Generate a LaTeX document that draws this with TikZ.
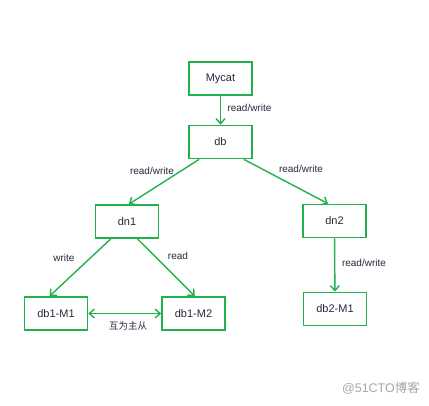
\documentclass[tikz,border=0pt]{standalone}
\usepackage{fontspec}
\setmainfont{Liberation Sans}
\newfontfamily\cjk{Noto Sans CJK SC}
\usetikzlibrary{arrows.meta,calc}
\definecolor{pgreen}{RGB}{34,177,76}
\definecolor{txt}{RGB}{40,40,60}
\begin{document}
\begin{tikzpicture}[x=1pt,y=-1pt,
  box/.style={draw=pgreen,line width=1.7pt,minimum width=63pt,minimum height=33pt,inner sep=0pt,text=txt,font=\fontsize{11}{13}\selectfont},
  conn/.style={draw=pgreen,line width=1.4pt,-{Straight Barb[length=5pt,width=9pt,line width=1.4pt]}},
  lbl/.style={text=txt,font=\fontsize{10}{12}\selectfont,inner sep=0pt}]
\path[use as bounding box,fill=white] (0,0) rectangle (429,405);
\node[box] (mycat) at (220.5,78.5) {Mycat};
\node[box] (db) at (220.5,142) {db};
\node[box] (dn1) at (127,221.5) {dn1};
\node[box] (dn2) at (334.5,221) {dn2};
\node[box] (m1) at (56,313.5) {db1-M1};
\node[box] (m2) at (193.5,313.5) {db1-M2};
\node[box] (m3) at (335,309) {db2-M1};
\draw[conn] (mycat) -- (db);
\draw[conn] ($(db.south west)!0.17!(db.south east)$) -- ($(dn1.north west)!0.53!(dn1.north east)$);
\draw[conn] ($(db.south west)!0.86!(db.south east)$) -- ($(dn2.north west)!0.4!(dn2.north east)$);
\draw[conn] ($(dn1.south west)!0.25!(dn1.south east)$) -- ($(m1.north west)!0.4!(m1.north east)$);
\draw[conn] ($(dn1.south west)!0.66!(dn1.south east)$) -- ($(m2.north west)!0.52!(m2.north east)$);
\draw[conn] (dn2) -- (m3);
\draw[conn,{Straight Barb[length=5pt,width=9pt,line width=1.4pt]}-{Straight Barb[length=5pt,width=9pt,line width=1.4pt]}] (m1) -- (m2);
\node[lbl] (l1) at (249.5,108) {read/write};
\node[lbl] (l2) at (152,171) {read/write};
\node[lbl] (l3) at (301,169) {read/write};
\node[lbl] (l4) at (64,258) {write};
\node[lbl] (l5) at (178,256) {read};
\node[lbl] (l6) at (364,263) {read/write};
\node[lbl,font=\cjk\fontsize{9.5}{11}\selectfont] (l7) at (128,326) {互为主从};
\node[text=gray!70,font=\fontsize{12.5}{14}\selectfont,inner sep=0pt] (wm) at (381,388) {@51CTO{\cjk 博客}};
\end{tikzpicture}
\end{document}
